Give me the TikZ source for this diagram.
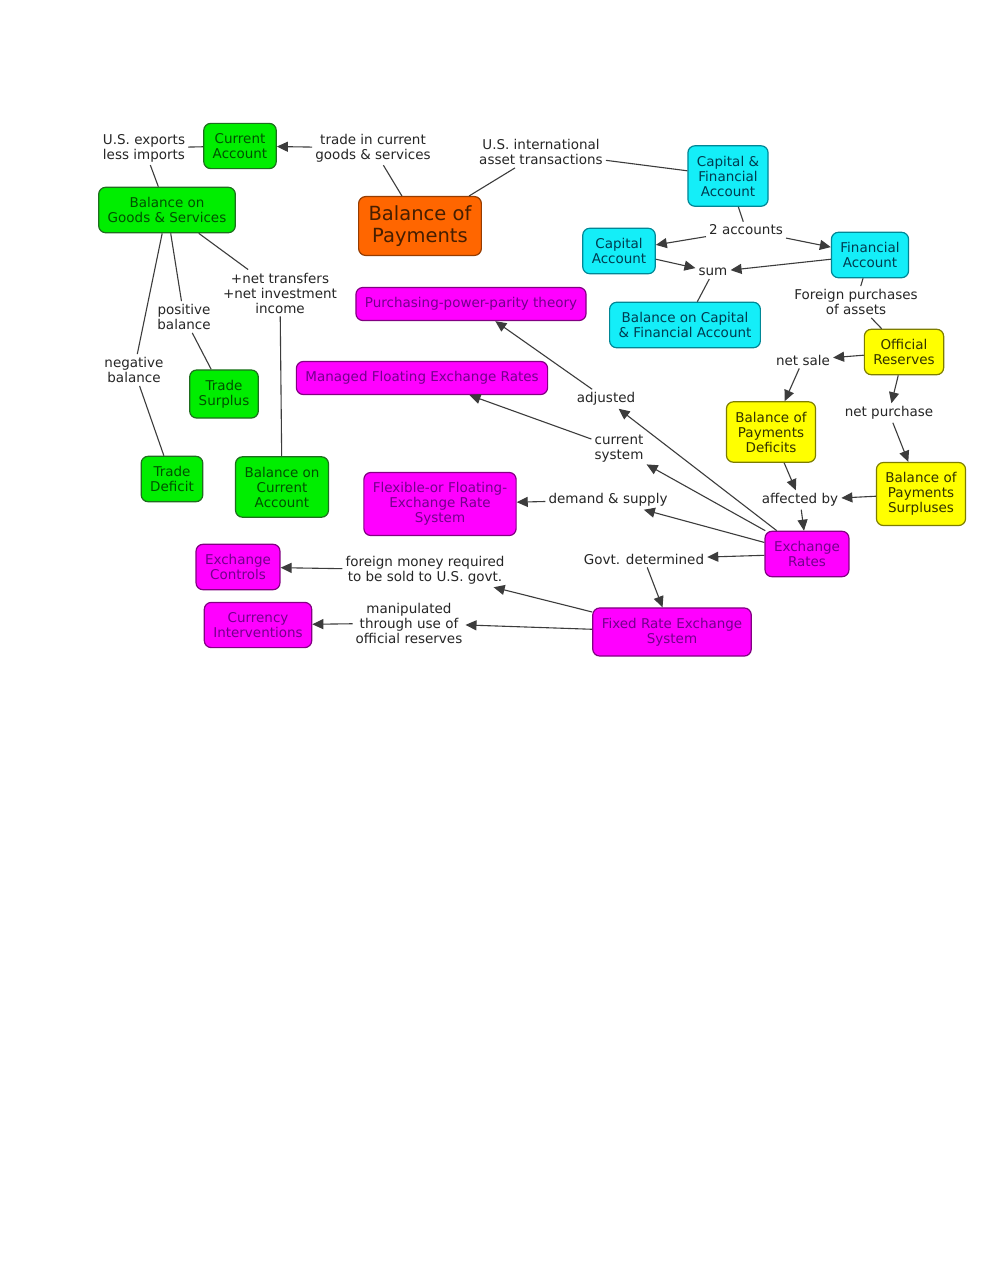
\documentclass[tikz,border=0pt]{standalone}
\usepackage{fontspec}
\setmainfont{DejaVu Sans}
\usetikzlibrary{arrows.meta}

\definecolor{verdeF}{RGB}{0,238,0}
\definecolor{verdeB}{RGB}{30,110,30}
\definecolor{verdeT}{RGB}{0,80,0}
\definecolor{cianF}{RGB}{20,238,248}
\definecolor{cianB}{RGB}{0,135,150}
\definecolor{cianT}{RGB}{0,60,80}
\definecolor{amarF}{RGB}{255,255,0}
\definecolor{amarB}{RGB}{125,125,0}
\definecolor{amarT}{RGB}{50,50,0}
\definecolor{magF}{RGB}{255,0,255}
\definecolor{magB}{RGB}{130,0,130}
\definecolor{magT}{RGB}{115,0,140}
\definecolor{naranjaF}{RGB}{255,102,0}
\definecolor{naranjaB}{RGB}{150,60,0}
\definecolor{naranjaT}{RGB}{70,30,0}
\definecolor{gris}{RGB}{60,60,60}

\tikzset{
  concepto/.style={draw, rounded corners=7pt, line width=1.2pt, align=center,
    inner xsep=9pt, inner ysep=10pt, font=\fontsize{13.5}{15}\selectfont},
  verde/.style={concepto, fill=verdeF, draw=verdeB, text=verdeT},
  cian/.style={concepto, fill=cianF, draw=cianB, text=cianT},
  amarillo/.style={concepto, fill=amarF, draw=amarB, text=amarT},
  magenta/.style={concepto, fill=magF, draw=magB, text=magT},
  enlace/.style={align=center, inner sep=3pt, font=\fontsize{13.5}{15}\selectfont, text=black!85},
  linea/.style={draw=gris, line width=1.1pt},
  flecha/.style={linea, -{Triangle[length=11pt,width=10pt]}},
}

\begin{document}
\begin{tikzpicture}[x=1pt,y=-1pt]
    \fill[white] (0,0) rectangle (990,1280);
    \useasboundingbox (0,0) rectangle (990,1280);

    % Conceptos
    \node[concepto, fill=naranjaF, draw=naranjaB, text=naranjaT, font=\fontsize{19.5}{22}\selectfont, inner xsep=10pt, inner ysep=9pt] (bop) at (420,226) {Balance of\\Payments};
    \node[verde] (ca) at (240,146) {Current\\Account};
    \node[verde] (bgs) at (167,210) {Balance on\\Goods \& Services};
    \node[verde] (ts) at (224,394) {Trade\\Surplus};
    \node[verde] (td) at (172,479) {Trade\\Deficit};
    \node[verde] (bca) at (282,487) {Balance on\\Current\\Account};
    \node[cian] (cfa) at (728,176) {Capital \&\\Financial\\Account};
    \node[cian] (capa) at (619,251) {Capital\\Account};
    \node[cian] (fina) at (870,255) {Financial\\Account};
    \node[cian] (bcfa) at (685,325) {Balance on Capital\\\& Financial Account};
    \node[amarillo] (or) at (904,352) {Official\\Reserves};
    \node[amarillo] (bpd) at (771,432) {Balance of\\Payments\\Deficits};
    \node[amarillo] (bps) at (921,494) {Balance of\\Payments\\Surpluses};
    \node[magenta] (ppp) at (471,304) {Purchasing-power-parity theory};
    \node[magenta] (mfer) at (422,378) {Managed Floating Exchange Rates};
    \node[magenta] (ffer) at (440,504) {Flexible-or Floating-\\Exchange Rate\\System};
    \node[magenta] (er) at (807,554) {Exchange\\Rates};
    \node[magenta] (ec) at (238,567) {Exchange\\Controls};
    \node[magenta] (ci) at (258,625) {Currency\\Interventions};
    \node[magenta] (fres) at (672,632) {Fixed Rate Exchange\\System};

    % Enlaces
    \node[enlace] (usx) at (144,148) {U.S. exports\\less imports};
    \node[enlace] (trade) at (373,148) {trade in current\\goods \& services};
    \node[enlace] (asset) at (541,152) {U.S. international\\asset transactions};
    \node[enlace] (net) at (280,293) {+net transfers\\+net investment\\income};
    \node[enlace] (pos) at (184,317) {positive\\balance};
    \node[enlace] (neg) at (134,370) {negative\\balance};
    \node[enlace] (two) at (746,230) {2 accounts};
    \node[enlace] (sum) at (713,272) {sum};
    \node[enlace] (fpa) at (856,302) {Foreign purchases\\of assets};
    \node[enlace] (sale) at (803,360) {net sale};
    \node[enlace] (purch) at (889,413) {net purchase};
    \node[enlace] (adj) at (606,399) {adjusted};
    \node[enlace] (cur) at (619,449) {current\\system};
    \node[enlace] (dem) at (608,500) {demand \& supply};
    \node[enlace] (aff) at (800,500) {affected by};
    \node[enlace] (govt) at (644,559) {Govt. determined};
    \node[enlace] (fmr) at (425,570) {foreign money required\\to be sold to U.S. govt.};
    \node[enlace] (man) at (409,623) {manipulated\\through use of\\official reserves};

    % Lineas sin flecha
    \draw[linea] (bgs) -- (usx);
    \draw[linea] (usx) -- (ca);
    \draw[linea] (bop) -- (trade);
    \draw[linea] (bop) -- (asset);
    \draw[linea] (asset) -- (cfa);
    \draw[linea] (bgs) -- (net);
    \draw[linea] (net) -- (bca);
    \draw[linea] (bgs) -- (pos);
    \draw[linea] (pos) -- (ts);
    \draw[linea] (bgs) -- (neg);
    \draw[linea] (neg) -- (td);
    \draw[linea] (cfa) -- (two);
    \draw[linea] (sum) -- (bcfa);
    \draw[linea] (fina) -- (fpa);
    \draw[linea] (fpa) -- (or);

    % Flechas
    \draw[flecha] (trade) -- (ca);
    \draw[flecha] (two) -- (capa);
    \draw[flecha] (two) -- (fina);
    \draw[flecha] (capa) -- (sum);
    \draw[flecha] (fina) -- (sum);
    \draw[flecha] (or) -- (sale);
    \draw[flecha] (sale) -- (bpd);
    \draw[flecha] (or) -- (purch);
    \draw[flecha] (purch) -- (bps);
    \draw[flecha] (bpd) -- (aff);
    \draw[flecha] (bps) -- (aff);
    \draw[flecha] (aff) -- (er);
    \draw[flecha] (er) -- (adj);
    \draw[flecha] (adj) -- (ppp);
    \draw[flecha] (er) -- (cur);
    \draw[flecha] (cur) -- (mfer);
    \draw[flecha] (er) -- (dem);
    \draw[flecha] (dem) -- (ffer);
    \draw[flecha] (er) -- (govt);
    \draw[flecha] (govt) -- (fres);
    \draw[flecha] (fres) -- (fmr);
    \draw[flecha] (fmr) -- (ec);
    \draw[flecha] (fres) -- (man);
    \draw[flecha] (man) -- (ci);
\end{tikzpicture}
\end{document}
